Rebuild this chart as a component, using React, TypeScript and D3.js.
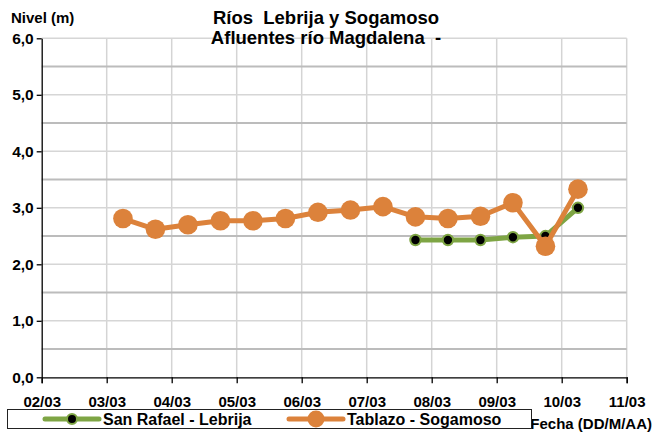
import { useEffect, useRef } from 'react';
import * as d3 from 'd3';

// Reading times: every 12 h starting 03/03 06:00
const tablazoTimes = [
  '2021-03-03T06:00', '2021-03-03T18:00', '2021-03-04T06:00', '2021-03-04T18:00',
  '2021-03-05T06:00', '2021-03-05T18:00', '2021-03-06T06:00', '2021-03-06T18:00',
  '2021-03-07T06:00', '2021-03-07T18:00', '2021-03-08T06:00', '2021-03-08T18:00',
  '2021-03-09T06:00', '2021-03-09T18:00', '2021-03-10T06:00'
];
const tablazoLevels = [2.81, 2.62, 2.70, 2.77, 2.77, 2.81, 2.92, 2.96, 3.02, 2.84, 2.81, 2.85, 3.09, 2.32, 3.33];

const sanRafaelTimes = [
  '2021-03-07T18:00', '2021-03-08T06:00', '2021-03-08T18:00',
  '2021-03-09T06:00', '2021-03-09T18:00', '2021-03-10T06:00'
];
const sanRafaelLevels = [2.43, 2.43, 2.43, 2.48, 2.50, 3.00];

const xDomain = ['2021-03-02T00:00', '2021-03-11T00:00'];
const yTicks = [0, 1, 2, 3, 4, 5, 6];
const yGrid = [0.5, 1, 1.5, 2, 2.5, 3, 3.5, 4, 4.5, 5, 5.5, 6];

const seriesNames = ['San Rafael - Lebrija', 'Tablazo - Sogamoso'];
const titleLines = ['Ríos  Lebrija y Sogamoso', 'Afluentes río Magdalena  -'];

const GREEN = '#7ea544';
const ORANGE = '#dc823b';
const FONT = '"Liberation Sans", Arial, sans-serif';

export default function App() {
  const ref = useRef<SVGSVGElement | null>(null);

  useEffect(() => {
    const svg = d3.select(ref.current);
    svg.selectAll('*').remove();

    const left = 41.7, right = 626.7, top = 38.3, bottom = 377.3;

    const x = d3.scaleTime()
      .domain(xDomain.map(d => new Date(d)))
      .range([left, right]);
    const y = d3.scaleLinear().domain([0, 6]).range([bottom, top]);

    const days = d3.timeDay.range(new Date(xDomain[0]), d3.timeDay.offset(new Date(xDomain[1]), 1));

    // Gridlines
    svg.append('g').selectAll('line')
      .data(days.slice(1))
      .enter().append('line')
      .attr('x1', d => x(d)).attr('x2', d => x(d))
      .attr('y1', top).attr('y2', bottom)
      .attr('stroke', '#d4d4d4').attr('stroke-width', 1.5);

    svg.append('g').selectAll('line')
      .data(yGrid)
      .enter().append('line')
      .attr('x1', left).attr('x2', right)
      .attr('y1', d => y(d)).attr('y2', d => y(d))
      .attr('stroke', d => (d % 1 === 0 ? '#d6d6d6' : '#bcbcbc'))
      .attr('stroke-width', d => (d % 1 === 0 ? 1.5 : 2));

    // Axes
    const xAxis = svg.append('g')
      .attr('transform', `translate(0,${bottom})`)
      .call(d3.axisBottom(x).tickValues(days).tickSize(6).tickFormat(d3.timeFormat('%d/%m') as any));
    xAxis.select('.domain').attr('stroke', '#000').attr('stroke-width', 1.3);
    xAxis.selectAll('line').attr('stroke', '#000').attr('stroke-width', 1.3);
    xAxis.selectAll('text')
      .attr('font-family', FONT).attr('font-size', 15).attr('font-weight', 'bold')
      .attr('fill', '#000').attr('y', 19).attr('dy', '0.71em');

    const yAxis = svg.append('g')
      .attr('transform', `translate(${left},0)`)
      .call(d3.axisLeft(y).tickValues(yTicks).tickSize(5).tickSizeOuter(0)
        .tickFormat(d => d3.format('.1f')(d as number).replace('.', ',')));
    yAxis.select('.domain').attr('stroke', '#000').attr('stroke-width', 1.3);
    yAxis.selectAll('line').attr('stroke', '#000').attr('stroke-width', 1.3);
    yAxis.selectAll('text')
      .attr('font-family', FONT).attr('font-size', 15.5).attr('font-weight', 'bold')
      .attr('fill', '#000').attr('x', -8);

    // Lines
    const sanRafael = sanRafaelTimes.map((t, i) => ({ date: new Date(t), v: sanRafaelLevels[i] }));
    const tablazo = tablazoTimes.map((t, i) => ({ date: new Date(t), v: tablazoLevels[i] }));
    const line = d3.line<{ date: Date; v: number }>().x(d => x(d.date)).y(d => y(d.v));

    svg.append('path').datum(sanRafael)
      .attr('fill', 'none').attr('stroke', GREEN).attr('stroke-width', 5)
      .attr('stroke-linejoin', 'round').attr('d', line);
    svg.selectAll('.sr-dot').data(sanRafael)
      .enter().append('circle')
      .attr('class', 'sr-dot')
      .attr('cx', d => x(d.date)).attr('cy', d => y(d.v)).attr('r', 5.2)
      .attr('fill', '#000').attr('stroke', GREEN).attr('stroke-width', 2);

    svg.append('path').datum(tablazo)
      .attr('fill', 'none').attr('stroke', ORANGE).attr('stroke-width', 5)
      .attr('stroke-linejoin', 'round').attr('d', line);
    svg.selectAll('.tb-dot').data(tablazo)
      .enter().append('circle')
      .attr('class', 'tb-dot')
      .attr('cx', d => x(d.date)).attr('cy', d => y(d.v)).attr('r', 9.8)
      .attr('fill', ORANGE);

    // Titles
    svg.append('text')
      .attr('x', 11).attr('y', 23)
      .attr('font-family', FONT).attr('font-size', 15).attr('font-weight', 'bold')
      .text('Nivel (m)');

    svg.append('g').selectAll('text')
      .data(titleLines)
      .enter().append('text')
      .attr('x', 326).attr('y', (d, i) => 23.5 + i * 20.5)
      .attr('text-anchor', 'middle')
      .attr('font-family', FONT).attr('font-size', 18.5).attr('font-weight', 'bold')
      .style('white-space', 'pre')
      .text(d => d);

    svg.append('text')
      .attr('x', 652).attr('y', 429)
      .attr('text-anchor', 'end')
      .attr('font-family', FONT).attr('font-size', 15).attr('font-weight', 'bold')
      .text('Fecha (DD/M/AA)');

    // Legend
    const legend = svg.append('g');
    legend.append('rect')
      .attr('x', 7.5).attr('y', 409.5).attr('width', 524).attr('height', 19)
      .attr('fill', '#fff').attr('stroke', '#222').attr('stroke-width', 1);

    const items = [
      { label: seriesNames[0], color: GREEN, x0: 45, text: 103, r: 5, dot: '#000' },
      { label: seriesNames[1], color: ORANGE, x0: 289, text: 347, r: 7.5, dot: ORANGE }
    ];
    const li = legend.selectAll('.item').data(items).enter().append('g').attr('class', 'item');
    li.append('line')
      .attr('x1', d => d.x0).attr('x2', d => d.x0 + 54)
      .attr('y1', 419).attr('y2', 419)
      .attr('stroke', d => d.color).attr('stroke-width', 5).attr('stroke-linecap', 'round');
    li.append('circle')
      .attr('cx', d => d.x0 + 27).attr('cy', 419).attr('r', d => d.r)
      .attr('fill', d => d.dot).attr('stroke', d => d.color).attr('stroke-width', 2);
    li.append('text')
      .attr('x', d => d.text).attr('y', 424.5)
      .attr('font-family', FONT).attr('font-size', 16).attr('font-weight', 'bold')
      .text(d => d.label);
  }, []);

  return (
    <div style={{ position: 'fixed', left: 0, top: 0, width: 655, height: 437, background: '#fff' }}>
      <svg ref={ref} width={655} height={437} style={{ display: 'block' }} />
    </div>
  );
}
